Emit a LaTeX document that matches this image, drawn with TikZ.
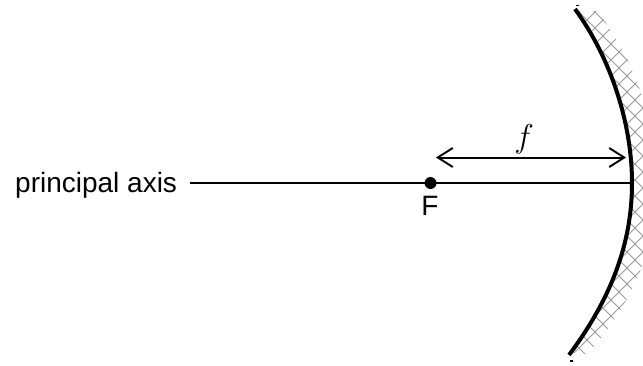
\documentclass[tikz,border=0pt]{standalone}
\usepackage{graphicx}
\usepackage{fontspec}
\setmainfont{Liberation Sans}
\usetikzlibrary{arrows.meta}
\definecolor{hatchgray}{gray}{0.6}
\tikzset{
  ax/.style={line width=1.8pt,black},
  dim/.style={line width=2pt,black,{Straight Barb[length=15pt,width=19pt,line width=1.9pt]}-{Straight Barb[length=15pt,width=19pt,line width=1.9pt]}},
  mirror/.style={line width=4pt,black},
  hatchline/.style={line width=0.9pt,hatchgray},
  lab/.style={font=\fontsize{28}{30}\selectfont,inner sep=0pt,text=black}
}
\begin{document}
\begin{tikzpicture}[x=1pt,y=-1pt]
\useasboundingbox (0,0) rectangle (643,365);
% hatching
\begin{scope}
\clip (577,11) .. controls (612,60) and (632,125) .. (632,183)
      .. controls (632,245) and (610,300) .. (571,353)
      -- (587,354) .. controls (636,300) and (656,245) .. (656,183)
      .. controls (656,125) and (636,60) .. (597,11) -- cycle;
\foreach \k in {-30,...,30}{
  \draw[hatchline] (560,{-7+\k*16}) -- ++(100,100);
  \draw[hatchline] (560,{47+\k*16}) -- ++(100,-100);
}
\end{scope}
% mirror
\coordinate (vertex) at (632,183);
\draw[mirror] (575,9) .. controls (612,60) and (632,125) .. (vertex)
      .. controls (632,245) and (610,300) .. (569,355);
\fill (576,4.5) rectangle (578.5,6);
\fill (569.5,360) rectangle (573,362);
% axis
\node[lab,anchor=base west] (axislabel) at (15,192) {principal axis};
\coordinate (axisstart) at (190,183);
\draw[ax] (axisstart) -- (vertex);
\node[circle,fill=black,minimum size=12pt,inner sep=0pt] (focus) at (430.5,183) {};
\node[lab,anchor=base] (flabel) at (430,215) {F};
% focal length
\coordinate (fl) at (436,157.5);
\coordinate (fr) at (626,157.5);
\draw[dim] (fl) -- (fr);
\node[lab,anchor=base,font=\fontsize{24.88}{30}\selectfont] (ftext) at (524,147.6) {\scalebox{1.33}{$f$}};
\end{tikzpicture}
\end{document}
